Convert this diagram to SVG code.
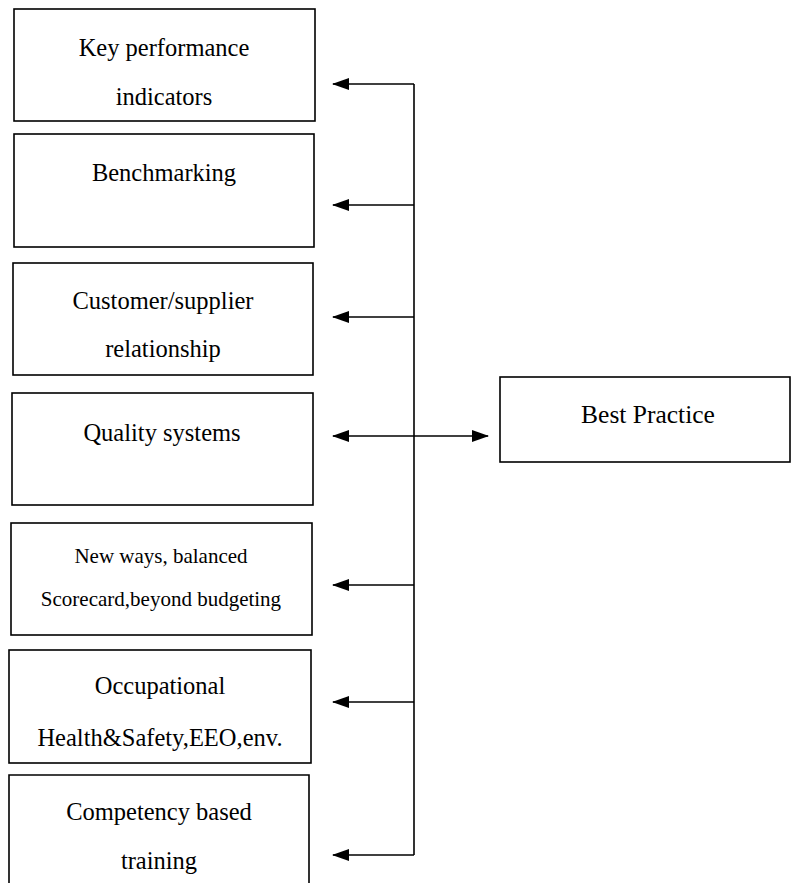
<svg xmlns="http://www.w3.org/2000/svg" width="792" height="883" viewBox="0 0 792 883">
<style>
.box{fill:none;stroke:#000;stroke-width:1.6}
.t{font-family:"Liberation Serif","Times New Roman",serif;font-size:24.5px;fill:#000;text-anchor:middle}
.s{font-size:21px}
.b{font-size:25.5px}
.c{fill:none;stroke:#000;stroke-width:1.6}
</style>
<defs>
<marker id="ah" viewBox="0 0 17 12" refX="16" refY="6" markerWidth="17" markerHeight="12" markerUnits="userSpaceOnUse" orient="auto-start-reverse">
<path d="M0,0 L17,6 L0,12 Z" fill="#000"/>
</marker>
</defs>
<rect width="792" height="883" fill="#fff"/>
<g id="kpi"><rect class="box" x="14" y="9" width="301" height="112"/><text class="t" x="164" y="56">Key performance</text><text class="t" x="164" y="105">indicators</text></g>
<g id="benchmarking"><rect class="box" x="14" y="134" width="300" height="113"/><text class="t" x="164" y="181">Benchmarking</text></g>
<g id="customer"><rect class="box" x="13" y="263" width="300" height="112"/><text class="t" x="163" y="309">Customer/supplier</text><text class="t" x="163" y="357">relationship</text></g>
<g id="quality"><rect class="box" x="12" y="393" width="301" height="112"/><text class="t" x="162" y="441">Quality systems</text></g>
<g id="newways"><rect class="box" x="11" y="523" width="301" height="112"/><text class="t s" x="161" y="563">New ways, balanced</text><text class="t s" x="161" y="606">Scorecard,beyond budgeting</text></g>
<g id="ohs"><rect class="box" x="9" y="650" width="302" height="113"/><text class="t" x="160" y="694">Occupational</text><text class="t" x="160" y="746">Health&amp;Safety,EEO,env.</text></g>
<g id="competency"><path class="box" d="M9,883 V775 H309 V883"/><text class="t" x="159" y="820">Competency based</text><text class="t" x="159" y="869">training</text></g>
<g id="best"><rect class="box" x="500" y="377" width="290" height="85"/><text class="t b" x="648" y="423">Best Practice</text></g>
<g id="connectors">
<path class="c" d="M414,84 V855"/>
<path class="c" d="M414,84 H333" marker-end="url(#ah)"/>
<path class="c" d="M414,205 H333" marker-end="url(#ah)"/>
<path class="c" d="M414,317 H333" marker-end="url(#ah)"/>
<path class="c" d="M333,436 H488" marker-start="url(#ah)" marker-end="url(#ah)"/>
<path class="c" d="M414,585 H333" marker-end="url(#ah)"/>
<path class="c" d="M414,702 H333" marker-end="url(#ah)"/>
<path class="c" d="M414,855 H333" marker-end="url(#ah)"/>
</g>
</svg>
